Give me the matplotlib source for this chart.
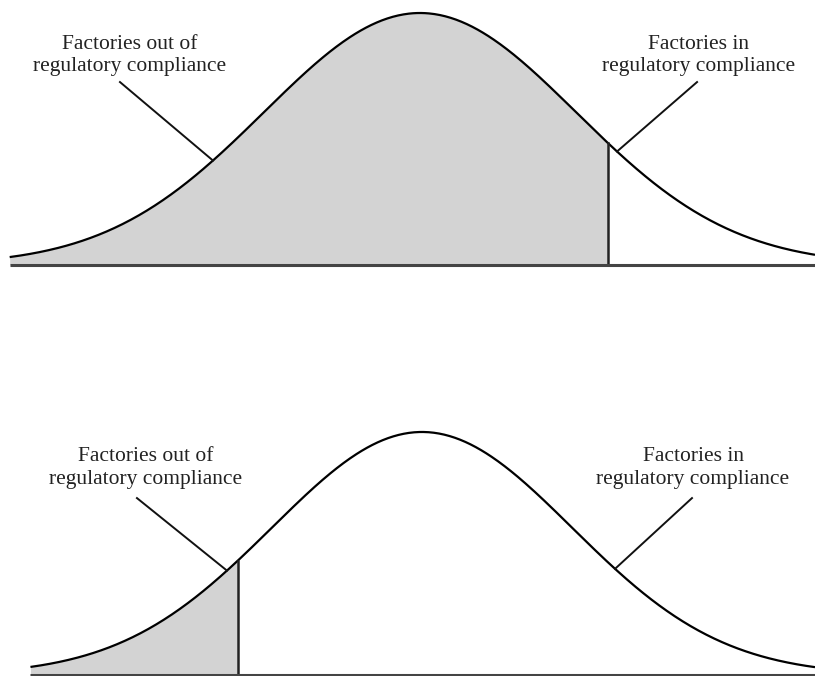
import numpy as np
import matplotlib.pyplot as plt

# two panels: same bell curve, different compliance cut-off
panel_names = ["strict", "lenient"]
cutoffs = [1.205, -1.227]          # cut-off in standard units
x_starts = [-2.63, -2.61]          # where the curve is drawn from
x_limits = [(-2.692, 2.532), (-2.813, 2.62)]
y_limits = [(-0.0595, 1.0516), (-0.0041, 1.1728)]
ax_boxes = [[0, 0.5858, 1, 0.4142], [0, 0, 1, 0.4231]]

label_left = "Factories out of\nregulatory compliance"
label_right = "Factories in\nregulatory compliance"
left_text_pos = [(-1.859, 0.832), (-1.84, 0.852)]
right_text_pos = [(1.788, 0.832), (1.807, 0.852)]
left_leader = [(-1.923, 0.726, -1.327), (-1.9, 0.728, -1.30)]
right_leader = [(1.776, 0.726, 1.263), (1.80, 0.728, 1.287)]

plt.rcParams['font.family'] = ['Liberation Serif', 'DejaVu Serif']

def bell(z):
    return np.exp(-z ** 2 / 2)

fig = plt.figure(figsize=(8.15, 6.76), dpi=100)

for i in range(len(panel_names)):
    ax = fig.add_axes(ax_boxes[i])
    x = np.linspace(x_starts[i], x_limits[i][1], 600)
    y = bell(x)
    c = cutoffs[i]

    # shaded part left of cut-off
    m = x <= c
    ax.fill_between(x[m], 0, y[m], color='#d3d3d3', lw=0)
    ax.plot(x, y, color='black', lw=1.6, solid_capstyle='butt')
    ax.plot([c, c], [0, bell(c)], color='#222222', lw=1.8)
    ax.plot([x_starts[i], x_limits[i][1]], [0, 0], color='#444444', lw=2.2,
            clip_on=False, solid_capstyle='butt')

    # leader lines
    x0, y0, x1 = left_leader[i]
    ax.plot([x0, x1], [y0, bell(x1)], color='#111111', lw=1.4)
    x0, y0, x1 = right_leader[i]
    ax.plot([x0, x1], [y0, bell(x1)], color='#111111', lw=1.4)

    ax.text(*left_text_pos[i], label_left, ha='center', va='center',
            fontsize=15.5, linespacing=1.25, color='#222222')
    ax.text(*right_text_pos[i], label_right, ha='center', va='center',
            fontsize=15.5, linespacing=1.25, color='#222222')

    ax.set_xlim(*x_limits[i])
    ax.set_ylim(*y_limits[i])
    ax.axis('off')

plt.savefig('out.png', dpi=100)
